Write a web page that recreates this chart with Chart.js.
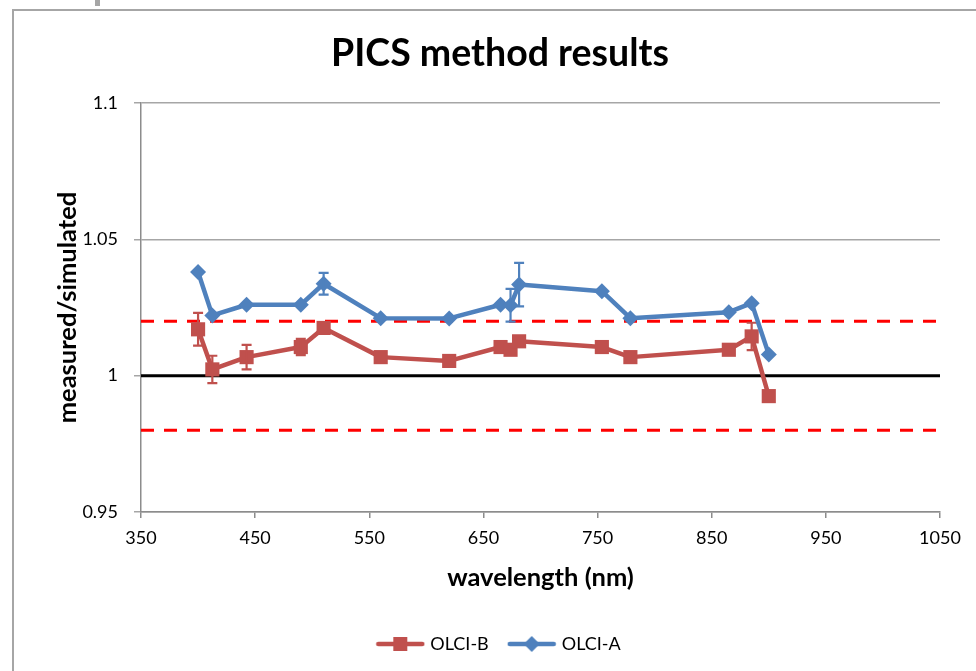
<!DOCTYPE html>
<html>
<head>
<meta charset="utf-8">
<script src="https://cdn.jsdelivr.net/npm/chart.js@4/dist/chart.umd.min.js"></script>
<style>
  html, body { margin: 0; padding: 0; background: #ffffff; }
  #wrap { width: 976px; height: 671px; position: relative; }
</style>
</head>
<body>
<div id="wrap"><canvas id="chart" width="976" height="671"></canvas></div>
<script>
// OLCI band centres (nm)
const wavelengths = [400, 412.5, 442.5, 490, 510, 560, 620, 665, 673.75, 681.25, 753.75, 778.75, 865, 885, 900];

// measured / simulated ratios and their uncertainties
const olciB    = [1.0170, 1.0023, 1.0068, 1.0105, 1.0175, 1.0068, 1.0054, 1.0105, 1.0095, 1.0126, 1.0105, 1.0068, 1.0095, 1.0144, 0.9925];
const olciBErr = [0.0060, 0.0050, 0.0045, 0.0030, 0, 0, 0, 0, 0, 0, 0, 0, 0, 0.0050, 0];
const olciA    = [1.0380, 1.0221, 1.0260, 1.0260, 1.0337, 1.0211, 1.0210, 1.0260, 1.0258, 1.0334, 1.0310, 1.0211, 1.0233, 1.0266, 1.0078];
const olciAErr = [0, 0, 0, 0, 0.0040, 0, 0, 0, 0.0060, 0.0080, 0, 0, 0, 0, 0];

// reference levels
const unityLevel = 1.0;
const toleranceLevels = [1.02, 0.98];

// axis ticks
const xTickValues = [350, 450, 550, 650, 750, 850, 950, 1050];
const yTickValues = [0.95, 1.0, 1.05, 1.1];
const yTickLabels = ['0.95', '1', '1.05', '1.1'];

const RED = '#C0504D';
const BLUE = '#4F81BD';
const FONT = 'Lato, "Open Sans", "Liberation Sans", sans-serif';

const xRange = [xTickValues[0], xTickValues[xTickValues.length - 1]];
const toPoints = (ys) => wavelengths.map((w, i) => ({ x: w, y: ys[i] }));
const levelLine = (v) => xRange.map((x) => ({ x: x, y: v }));

// legend swatch: a line with the series marker in its middle
function legendIcon(color, shape) {
  const c = document.createElement('canvas');
  c.width = 50; c.height = 20;
  const g = c.getContext('2d');
  g.strokeStyle = color; g.lineWidth = 4.5; g.lineCap = 'round';
  g.beginPath(); g.moveTo(3, 10); g.lineTo(47, 10); g.stroke();
  g.fillStyle = color;
  if (shape === 'square') {
    g.fillRect(25 - 7, 10 - 7, 14, 14);
  } else {
    g.beginPath(); g.moveTo(25, 2); g.lineTo(33, 10); g.lineTo(25, 18); g.lineTo(17, 10); g.closePath(); g.fill();
  }
  return c;
}

// vertical error bars with caps, drawn right after their own series
const errorBars = {
  id: 'errorBars',
  afterDatasetDraw(chart, args) {
    const ds = chart.data.datasets[args.index];
    if (!ds.errors) return;
    const { ctx } = chart;
    const x = chart.scales.x, y = chart.scales.y;
    ctx.save();
    ctx.strokeStyle = ds.borderColor;
    ctx.lineWidth = 2.2;
    ds.data.forEach((p, j) => {
      const e = ds.errors[j];
      if (!e) return;
      const px = x.getPixelForValue(p.x);
      const top = y.getPixelForValue(p.y + e);
      const bot = y.getPixelForValue(p.y - e);
      ctx.beginPath();
      ctx.moveTo(px, top); ctx.lineTo(px, bot);
      ctx.moveTo(px - 5, top); ctx.lineTo(px + 5, top);
      ctx.moveTo(px - 5, bot); ctx.lineTo(px + 5, bot);
      ctx.stroke();
    });
    ctx.restore();
  }
};

// grey outline of the chart box
const chartFrame = {
  id: 'chartFrame',
  beforeDraw(chart) {
    const { ctx } = chart;
    ctx.save();
    ctx.strokeStyle = '#a6a6a6';
    ctx.lineWidth = 2;
    ctx.beginPath();
    ctx.moveTo(13, 700); ctx.lineTo(13, 10); ctx.lineTo(1000, 10);
    ctx.stroke();
    ctx.fillStyle = '#a6a6a6';
    ctx.fillRect(95, 0, 5, 6);
    ctx.restore();
  }
};

const lineDefaults = { tension: 0, borderJoinStyle: 'round', borderCapStyle: 'round', fill: false };

new Chart(document.getElementById('chart'), {
  type: 'line',
  data: {
    datasets: [
      Object.assign({
        label: 'OLCI-B', data: toPoints(olciB), errors: olciBErr,
        borderColor: RED, backgroundColor: RED, borderWidth: 4.5,
        pointStyle: 'rect', pointRadius: 10, pointHoverRadius: 10, pointBorderWidth: 0,
        order: 2
      }, lineDefaults),
      Object.assign({
        label: 'OLCI-A', data: toPoints(olciA), errors: olciAErr,
        borderColor: BLUE, backgroundColor: BLUE, borderWidth: 4.5,
        pointStyle: 'rectRot', pointRadius: 8, pointHoverRadius: 8, pointBorderWidth: 0,
        order: 1
      }, lineDefaults),
      Object.assign({
        label: 'upper', data: levelLine(toleranceLevels[0]),
        borderColor: '#FF0000', borderWidth: 3, borderDash: [13, 10], pointRadius: 0, order: 3
      }, lineDefaults, { borderCapStyle: 'butt' }),
      Object.assign({
        label: 'lower', data: levelLine(toleranceLevels[1]),
        borderColor: '#FF0000', borderWidth: 3, borderDash: [13, 10], pointRadius: 0, order: 3
      }, lineDefaults, { borderCapStyle: 'butt' }),
      Object.assign({
        label: 'unity', data: levelLine(unityLevel),
        borderColor: '#000000', borderWidth: 3, pointRadius: 0, order: 3
      }, lineDefaults, { borderCapStyle: 'butt' })
    ]
  },
  options: {
    responsive: false,
    animation: false,
    events: [],
    layout: { padding: { left: 60, right: 36, top: 0, bottom: 8 } },
    plugins: {
      tooltip: { enabled: false },
      title: {
        display: true,
        text: 'PICS method results',
        color: '#000',
        font: { family: FONT, size: 37.5, weight: 'bold' },
        padding: { top: 31, bottom: 27 }
      },
      legend: {
        display: true,
        position: 'bottom',
        labels: {
          color: '#000',
          font: { family: FONT, size: 18 },
          usePointStyle: true,
          pointStyleWidth: 42,
          padding: 22,
          generateLabels: () => [
            { text: 'OLCI-B', pointStyle: legendIcon(RED, 'square'), datasetIndex: 0, fillStyle: RED, strokeStyle: RED, lineWidth: 0, fontColor: '#000' },
            { text: 'OLCI-A', pointStyle: legendIcon(BLUE, 'diamond'), datasetIndex: 1, fillStyle: BLUE, strokeStyle: BLUE, lineWidth: 0, fontColor: '#000' }
          ]
        }
      }
    },
    scales: {
      x: {
        type: 'linear',
        min: xRange[0], max: xRange[1],
        afterBuildTicks: (s) => { s.ticks = xTickValues.map((v) => ({ value: v })); },
        afterFit: (s) => { s.height = 101; },
        ticks: { color: '#000', font: { family: FONT, size: 18 }, padding: 9, maxRotation: 0, callback: (v) => String(v) },
        grid: { drawOnChartArea: false, drawTicks: true, tickLength: 6, color: '#8c8c8c', lineWidth: 1.5 },
        border: { color: '#8c8c8c', width: 1.5 },
        title: {
          display: true, text: 'wavelength (nm)', color: '#000',
          font: { family: FONT, size: 25.5, weight: 'bold' }, padding: { top: 8, bottom: 20 }
        }
      },
      y: {
        min: yTickValues[0], max: yTickValues[yTickValues.length - 1],
        afterBuildTicks: (s) => { s.ticks = yTickValues.map((v) => ({ value: v })); },
        afterFit: (s) => { s.width = 81; },
        ticks: {
          color: '#000', font: { family: FONT, size: 18 }, padding: 16,
          callback: (v) => {
            const k = yTickValues.findIndex((t) => Math.abs(t - v) < 1e-9);
            return k >= 0 ? yTickLabels[k] : '';
          }
        },
        grid: { color: '#a6a6a6', lineWidth: 1.5, tickLength: 7, drawTicks: true },
        border: { color: '#8c8c8c', width: 1.5 },
        title: {
          display: true, text: 'measured/simulated', color: '#000',
          font: { family: FONT, size: 25.5, weight: 'bold' }, padding: { top: -8, bottom: 0 }
        }
      }
    }
  },
  plugins: [errorBars, chartFrame]
});
</script>
</body>
</html>
